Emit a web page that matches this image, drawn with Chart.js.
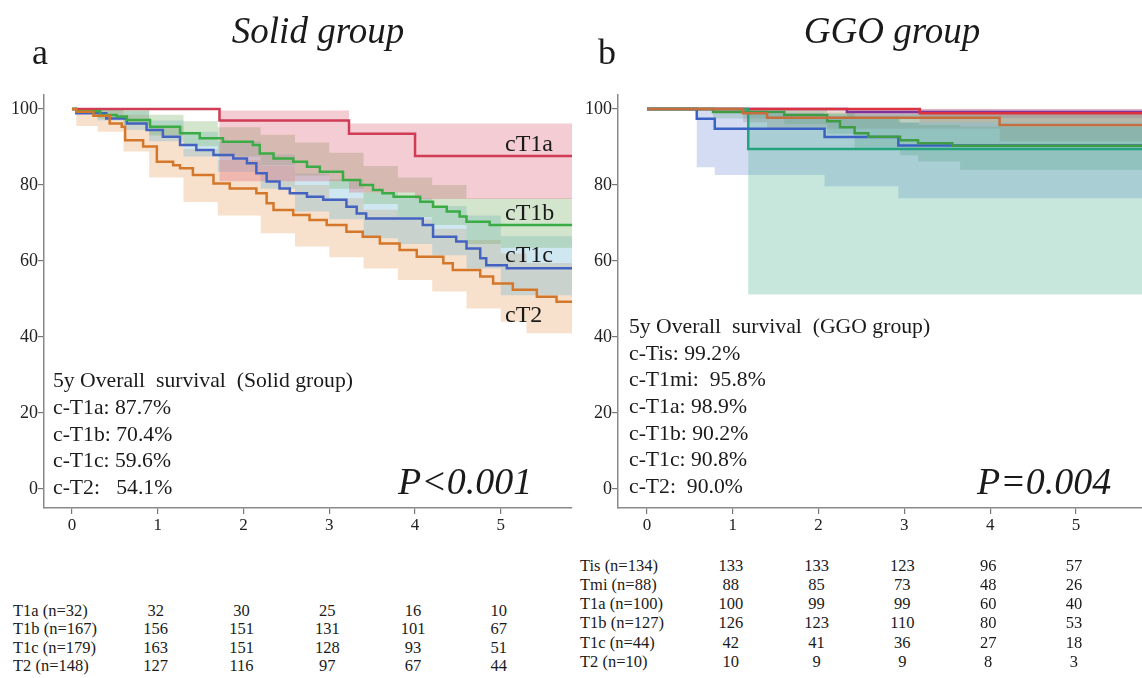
<!DOCTYPE html>
<html>
<head>
<meta charset="utf-8">
<script src="https://cdn.jsdelivr.net/npm/chart.js@4.4.1/dist/chart.umd.min.js"></script>
<style>
  html, body { margin: 0; padding: 0; background: #fff; }
  body { width: 1142px; height: 678px; position: relative; overflow: hidden; font-family: "Liberation Serif", "Times New Roman", serif; color: #1a1a1a; }
  canvas { position: absolute; top: 0; }
  .t { position: absolute; white-space: pre; }
</style>
</head>
<body>
<canvas id="solid" width="580" height="540" style="left:0px"></canvas>
<canvas id="ggo" width="568" height="540" style="left:574px"></canvas>
<script>
// ---------------- DATA ----------------
const xTickValues = [0, 1, 2, 3, 4, 5];
const yTickValues = [0, 20, 40, 60, 80, 100];
const riskYears = [1, 2, 3, 4, 5];

// Solid group (panel a)
const solidLabels = ["T1a (n=32)", "T1b (n=167)", "T1c (n=179)", "T2 (n=148)"];
const solidRisk = [
  [32, 30, 25, 16, 10],
  [156, 151, 131, 101, 67],
  [163, 151, 128, 93, 51],
  [127, 116, 97, 67, 44]
];
const solidSurvText = ["5y Overall  survival  (Solid group)", "c-T1a: 87.7%", "c-T1b: 70.4%", "c-T1c: 59.6%", "c-T2:   54.1%"];

const sT1aTimes = [0, 1.72, 3.23, 4.0, 5.83];
const sT1aSurv  = [100, 97.0, 93.5, 87.6, 87.6];
const sT1aUpper = [100, 99.6, 96.2, 96.2, 96.2];
const sT1aLower = [100, 81.0, 78.0, 76.3, 76.3];

const sT1bTimes = [0, 0.05, 0.33, 0.52, 0.64, 0.91, 1.26, 1.49, 1.76, 2.11, 2.19, 2.35, 2.58, 2.74, 2.89, 3.16, 3.36, 3.51, 3.62, 3.75, 4.06, 4.21, 4.37, 4.52, 4.60, 4.87, 5.83];
const sT1bSurv  = [100, 99.4, 98.4, 98.0, 97.1, 95.3, 93.6, 92.3, 91.4, 90.5, 88.3, 87.0, 86.1, 84.8, 83.5, 81.3, 80.0, 78.7, 77.8, 76.9, 75.6, 74.3, 73.0, 71.7, 70.3, 69.5, 69.5];
const sT1bBandTimes = [0, 0.3, 0.6, 0.9, 1.3, 1.7, 2.2, 2.6, 3.0, 3.4, 3.8, 4.2, 4.6, 5.0, 5.83];
const sT1bUpper = [100, 100, 99.8, 98.5, 96.8, 95.2, 93.2, 91.2, 88.5, 85.0, 82.0, 80.0, 76.5, 76.5, 76.5];
const sT1bLower = [100, 97.5, 95.8, 93.0, 90.2, 87.5, 85.2, 82.5, 79.0, 75.0, 71.5, 69.5, 64.5, 63.5, 63.5];

const sT1cTimes = [0, 0.05, 0.40, 0.64, 0.87, 1.06, 1.26, 1.45, 1.65, 1.88, 2.04, 2.15, 2.27, 2.42, 2.54, 2.74, 2.93, 3.20, 3.32, 3.43, 4.09, 4.21, 4.48, 4.60, 4.76, 4.83, 5.07, 5.83];
const sT1cSurv  = [100, 98.9, 97.5, 96.2, 94.5, 92.7, 90.5, 89.2, 87.9, 87.0, 85.7, 83.1, 80.9, 79.1, 77.8, 76.9, 76.1, 74.3, 72.5, 71.2, 69.5, 66.4, 65.1, 63.3, 60.7, 58.9, 58.1, 58.1];
const sT1cBandTimes = [0, 0.3, 0.6, 0.9, 1.3, 1.7, 2.2, 2.6, 3.0, 3.4, 3.8, 4.2, 4.6, 5.0, 5.83];
const sT1cUpper = [100, 100, 99.5, 97.0, 94.0, 91.5, 88.0, 83.0, 81.5, 78.0, 76.5, 74.5, 72.0, 66.5, 66.5];
const sT1cLower = [100, 97.0, 94.5, 91.5, 87.5, 83.5, 79.0, 73.0, 71.0, 66.0, 64.5, 61.5, 58.0, 51.0, 51.0];

const sT2Times = [0, 0.05, 0.25, 0.44, 0.58, 0.62, 0.83, 0.99, 1.18, 1.26, 1.41, 1.65, 1.84, 2.15, 2.27, 2.35, 2.58, 2.77, 2.97, 3.20, 3.39, 3.59, 3.82, 4.02, 4.33, 4.44, 4.76, 4.91, 5.14, 5.42, 5.65, 5.83];
const sT2Surv  = [100, 99.3, 98.2, 96.2, 95.3, 91.8, 90.1, 86.1, 85.2, 84.4, 82.6, 80.4, 79.1, 77.8, 75.2, 73.4, 72.1, 70.8, 69.5, 67.7, 66.4, 64.6, 62.9, 61.1, 59.4, 57.6, 55.9, 54.1, 52.4, 50.6, 49.3, 49.3];
const sT2BandTimes = [0, 0.05, 0.3, 0.6, 0.9, 1.3, 1.7, 2.2, 2.6, 3.0, 3.4, 3.8, 4.2, 4.6, 5.0, 5.3, 5.83];
const sT2Upper = [100, 100, 100, 98.5, 95.5, 89.5, 86.5, 85.0, 80.0, 76.5, 73.5, 71.0, 68.5, 65.5, 62.0, 59.5, 58.5];
const sT2Lower = [100, 95.5, 94.0, 88.8, 82.0, 75.5, 72.0, 67.3, 63.8, 61.0, 58.0, 55.0, 52.0, 47.5, 44.0, 41.0, 40.0];

// GGO group (panel b)
const ggoLabels = ["Tis (n=134)", "Tmi (n=88)", "T1a (n=100)", "T1b (n=127)", "T1c (n=44)", "T2 (n=10)"];
const ggoRisk = [
  [133, 133, 123, 96, 57],
  [88, 85, 73, 48, 26],
  [100, 99, 99, 60, 40],
  [126, 123, 110, 80, 53],
  [42, 41, 36, 27, 18],
  [10, 9, 9, 8, 3]
];
const ggoSurvText = ["5y Overall  survival  (GGO group)", "c-Tis: 99.2%", "c-T1mi:  95.8%", "c-T1a: 98.9%", "c-T1b: 90.2%", "c-T1c: 90.8%", "c-T2:  90.0%"];

const gTisTimes = [0, 2.33, 5.77];
const gTisSurv  = [100, 99.2, 99.2];
const gTisUpper = [100, 100, 100];
const gTisLower = [100, 97.6, 97.6];

const gTmiTimes = [0, 1.12, 1.40, 4.11, 5.77];
const gTmiSurv  = [100, 98.9, 97.7, 95.8, 95.8];
const gTmiUpper = [100, 100, 99.6, 98.8, 98.8];
const gTmiLower = [100, 96.5, 94.8, 91.5, 91.5];

const gT1aTimes = [0, 3.18, 5.77];
const gT1aSurv  = [100, 98.9, 98.9];
const gT1aUpper = [100, 100, 100];
const gT1aLower = [100, 96.5, 96.5];

const gT1bTimes = [0, 0.77, 1.60, 2.10, 2.25, 2.42, 2.58, 2.95, 3.16, 3.56, 5.77];
const gT1bSurv  = [100, 99.2, 98.4, 96.8, 95.2, 93.6, 92.7, 91.8, 91.0, 90.3, 90.3];
const gT1bBandTimes = [0, 0.77, 1.60, 2.10, 2.42, 2.95, 3.16, 3.65, 5.77];
const gT1bUpper = [100, 100, 99.8, 99.0, 97.5, 96.3, 95.8, 95.3, 95.3];
const gT1bLower = [100, 97.5, 96.0, 93.5, 89.5, 87.8, 86.2, 84.0, 84.0];

const gT1cTimes = [0, 0.58, 0.79, 2.07, 2.93, 5.77];
const gT1cSurv  = [100, 97.4, 94.8, 92.6, 90.4, 90.4];
const gT1cUpper = [100, 99.6, 99.0, 98.0, 96.5, 96.5];
const gT1cLower = [100, 84.7, 82.6, 79.7, 76.5, 76.5];

const gT2Times = [0, 1.18, 5.77];
const gT2Surv  = [100, 89.5, 89.5];
const gT2Upper = [100, 98.6, 98.6];
const gT2Lower = [100, 51.2, 51.2];

// ---------------- HELPERS ----------------
const FONT = '"Liberation Serif", "Times New Roman", serif';
function pts(times, vals) { return times.map((t, i) => ({ x: t, y: vals[i] })); }
function band(times, upper, lower, fillColor) {
  return [
    { data: pts(times, upper), borderColor: 'transparent', borderWidth: 0, pointRadius: 0, stepped: true, fill: false },
    { data: pts(times, lower), borderColor: 'transparent', borderWidth: 0, pointRadius: 0, stepped: true, fill: '-1', backgroundColor: fillColor }
  ];
}
function line(times, vals, color) {
  return { data: pts(times, vals), borderColor: color, borderWidth: 2.5, pointRadius: 0, stepped: true, fill: false };
}
function makeOptions(xMin, xMax, padRight) {
  return {
    responsive: false,
    animation: false,
    events: [],
    layout: { padding: { top: 95, right: padRight, left: 0, bottom: 0 } },
    plugins: { legend: { display: false }, tooltip: { enabled: false }, filler: { drawTime: 'beforeDatasetsDraw' } },
    scales: {
      x: {
        type: 'linear', min: xMin, max: xMax,
        afterFit: s => { s.height = 32; },
        afterBuildTicks: s => { s.ticks = xTickValues.map(v => ({ value: v })); },
        grid: { drawOnChartArea: false, drawTicks: true, tickLength: 6, color: '#777', lineWidth: 1.2 },
        border: { display: true, color: '#8a8a8a', width: 1.5 },
        ticks: { font: { family: FONT, size: 17 }, color: '#222', padding: 1, maxRotation: 0, autoSkip: false, callback: v => String(v) }
      },
      y: {
        type: 'linear', min: -5, max: 103.68,
        afterFit: s => { s.width = 44; },
        afterBuildTicks: s => { s.ticks = yTickValues.map(v => ({ value: v })); },
        grid: { drawOnChartArea: false, drawTicks: true, tickLength: 6, color: '#777', lineWidth: 1.2 },
        border: { display: true, color: '#8a8a8a', width: 1.5 },
        ticks: { font: { family: FONT, size: 18 }, color: '#222', padding: 0, autoSkip: false, callback: v => String(v) }
      }
    }
  };
}
function addText(txt, x, yCenter, size, extra) {
  const d = document.createElement('div');
  d.className = 't';
  d.textContent = txt;
  d.style.fontSize = size + 'px';
  d.style.lineHeight = size + 'px';
  d.style.left = x + 'px';
  d.style.top = (yCenter - size * 0.5) + 'px';
  if (extra) Object.assign(d.style, extra);
  document.body.appendChild(d);
  return d;
}

// ---------------- CHART a ----------------
const solidChart = new Chart(document.getElementById('solid'), {
  type: 'line',
  data: {
    datasets: [
      ...band(sT1aTimes, sT1aUpper, sT1aLower, 'rgba(222,95,118,0.32)'),
      ...band(sT1bBandTimes, sT1bUpper, sT1bLower, 'rgba(110,170,90,0.30)'),
      ...band(sT1cBandTimes, sT1cUpper, sT1cLower, 'rgba(95,175,210,0.30)'),
      ...band(sT2BandTimes, sT2Upper, sT2Lower, 'rgba(235,165,100,0.33)'),
      line(sT2Times, sT2Surv, '#d4772a'),
      line(sT1bTimes, sT1bSurv, '#3aab45'),
      line(sT1cTimes, sT1cSurv, '#4463c0'),
      line(sT1aTimes, sT1aSurv, '#cf3c54')
    ]
  },
  options: makeOptions(-0.326, 5.83, 8)
});

// ---------------- CHART b ----------------
const ggoChart = new Chart(document.getElementById('ggo'), {
  type: 'line',
  data: {
    datasets: [
      ...band(gT2Times, gT2Upper, gT2Lower, 'rgba(70,175,140,0.30)'),
      ...band(gT1cTimes, gT1cUpper, gT1cLower, 'rgba(110,140,215,0.30)'),
      ...band(gT1bBandTimes, gT1bUpper, gT1bLower, 'rgba(95,160,95,0.28)'),
      ...band(gTmiTimes, gTmiUpper, gTmiLower, 'rgba(190,120,90,0.28)'),
      ...band(gT1aTimes, gT1aUpper, gT1aLower, 'rgba(225,110,120,0.28)'),
      ...band(gTisTimes, gTisUpper, gTisLower, 'rgba(150,100,185,0.30)'),
      line(gTmiTimes, gTmiSurv, '#c46f3c'),
      line(gT1bTimes, gT1bSurv, '#3f9c44'),
      line(gT1cTimes, gT1cSurv, '#3a62c4'),
      line(gT2Times, gT2Surv, '#24a37e'),
      line(gT1aTimes, gT1aSurv, '#dc3240'),
      line(gTisTimes, gTisSurv, '#7d3399')
    ]
  },
  options: makeOptions(-0.338, 5.77, 0)
});

// ---------------- TEXT ----------------
addText('Solid group', 318, 30, 37, { fontStyle: 'italic', transform: 'translateX(-50%)' });
addText('GGO group', 892, 30, 37, { fontStyle: 'italic', transform: 'translateX(-50%)' });
addText('a', 32, 52, 36);
addText('b', 598, 52, 36);

// curve labels (panel a)
addText('cT1a', 505, 143, 24);
addText('cT1b', 505, 212, 24);
addText('cT1c', 505, 254, 24);
addText('cT2', 505, 314, 24);

// survival summaries
solidSurvText.forEach((s, i) => addText(s, 53, 381 + i * 26.7, 21.7));
ggoSurvText.forEach((s, i) => addText(s, 629, 327 + i * 26.6, 21.7));

addText('P<0.001', 398, 481, 38, { fontStyle: 'italic' });
addText('P=0.004', 977, 481, 38, { fontStyle: 'italic' });

// risk tables
function riskTable(chart, canvasLeft, labels, rows, labelX, y0, dy) {
  const xs = chart.scales.x;
  labels.forEach((lab, r) => {
    const y = y0 + r * dy;
    addText(lab, labelX, y, 16.5);
    rows[r].forEach((v, c) => {
      const px = canvasLeft + xs.getPixelForValue(riskYears[c]) - 2;
      addText(String(v), px, y, 16.5, { transform: 'translateX(-50%)' });
    });
  });
}
riskTable(solidChart, 0, solidLabels, solidRisk, 13, 611, 18.4);
riskTable(ggoChart, 574, ggoLabels, ggoRisk, 580, 566, 19.2);
</script>
</body>
</html>
